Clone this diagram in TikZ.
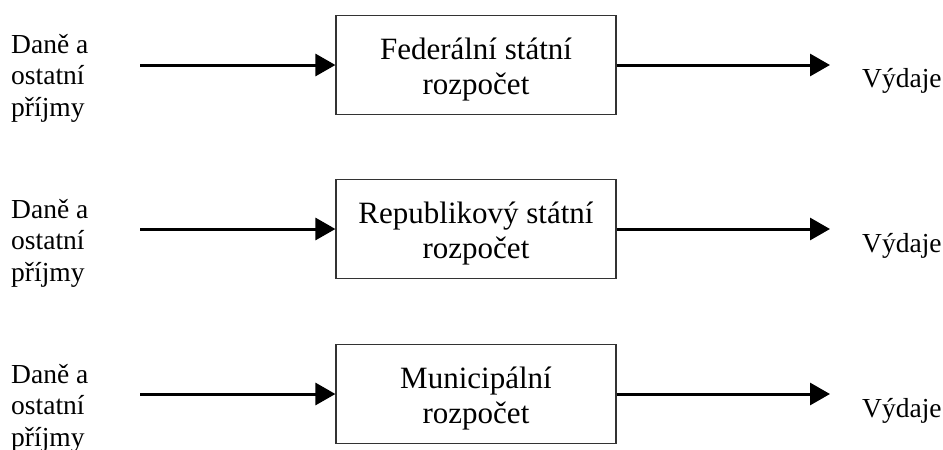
\documentclass[tikz,border=0pt]{standalone}
\usepackage{fontspec}
\setmainfont{Liberation Serif}
\usetikzlibrary{arrows.meta}
% two centred lines with fixed first-line height and last-line depth
\newcommand\budgetlines[2]{\rule{0pt}{30pt}#1\\#2\rule[-5pt]{0pt}{0pt}}
\begin{document}
\begin{tikzpicture}[x=1pt,y=-1pt,
  budget/.style={draw=black!80, line width=1.2pt, minimum width=280pt,
    minimum height=99pt, inner sep=0pt, align=center,
    font=\fontsize{31}{35}\selectfont},
  source/.style={anchor=base west, inner sep=0pt, align=left,
    font=\fontsize{27.5}{31.5}\selectfont},
  sink/.style={anchor=base west, inner sep=0pt,
    font=\fontsize{27.5}{31.5}\selectfont},
  flow/.style={line width=3pt, -{Triangle[length=20pt,width=22pt]}}]
\useasboundingbox (0,0) rectangle (943,450);

% budget levels
\node[budget] (fed) at (476,65)  {\budgetlines{Federální státní}{rozpočet}};
\node[budget] (rep) at (476,229) {\budgetlines{Republikový státní}{rozpočet}};
\node[budget] (mun) at (476,394) {\budgetlines{Municipální}{rozpočet}};

% revenue labels (anchored at the baseline of the last line)
\node[source] (infed) at (11,116) {Daně a\\ostatní\\příjmy};
\node[source] (inrep) at (11,281) {Daně a\\ostatní\\příjmy};
\node[source] (inmun) at (11,446) {Daně a\\ostatní\\příjmy};

% expenditure labels
\node[sink] (outfed) at (862,87)  {Výdaje};
\node[sink] (outrep) at (862,252) {Výdaje};
\node[sink] (outmun) at (862,417) {Výdaje};

% arrow ends
\coordinate (afed) at (140,65);
\coordinate (arep) at (140,229);
\coordinate (amun) at (140,394);
\coordinate (bfed) at (830,65);
\coordinate (brep) at (830,229);
\coordinate (bmun) at (830,394);

\draw[flow] (afed) -- (fed.west);
\draw[flow] (arep) -- (rep.west);
\draw[flow] (amun) -- (mun.west);
\draw[flow] (fed.east) -- (bfed);
\draw[flow] (rep.east) -- (brep);
\draw[flow] (mun.east) -- (bmun);
\end{tikzpicture}
\end{document}
